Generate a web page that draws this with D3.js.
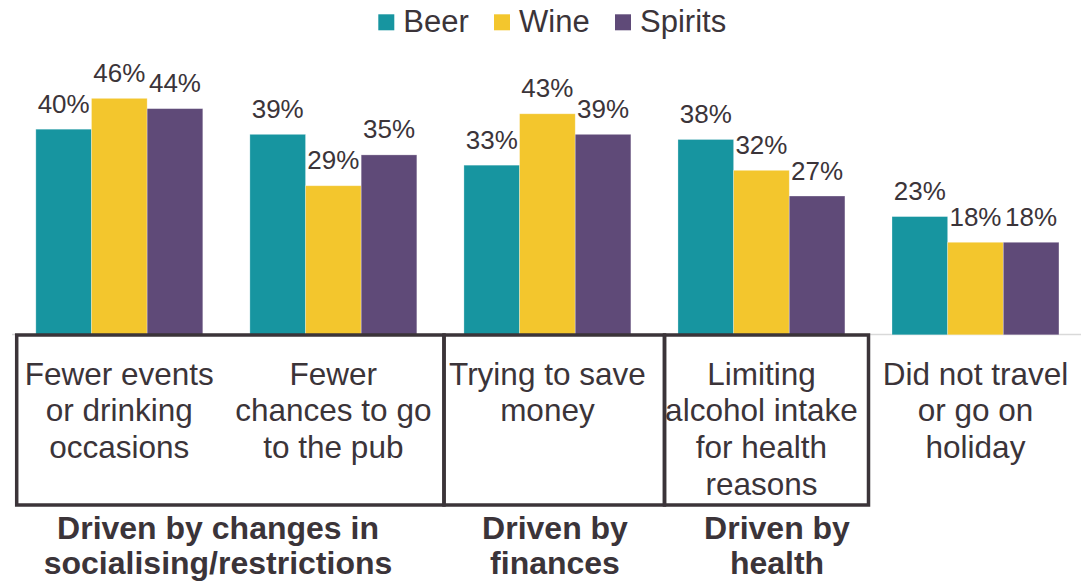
<!DOCTYPE html>
<html>
<head>
<meta charset="utf-8">
<script src="https://cdn.jsdelivr.net/npm/d3@7/dist/d3.min.js"></script>
<style>
  html, body { margin: 0; padding: 0; background: #fff; }
  svg { display: block; font-family: "Liberation Sans", Arial, sans-serif; }
</style>
</head>
<body>
<svg id="chart" width="1081" height="581"></svg>
<script>
// Reasons for drinking less, by drink type (% of respondents)
const categories = [
  ["Fewer events", "or drinking", "occasions"],
  ["Fewer", "chances to go", "to the pub"],
  ["Trying to save", "money"],
  ["Limiting", "alcohol intake", "for health", "reasons"],
  ["Did not travel", "or go on", "holiday"]
];
const seriesNames = ["Beer", "Wine", "Spirits"];
const beer    = [40, 39, 33, 38, 23];
const wine    = [46, 29, 43, 32, 18];
const spirits = [44, 35, 39, 27, 18];

// Driver groupings and their captions
const groupTitles = [
  ["Driven by changes in", "socialising/restrictions"],
  ["Driven by", "finances"],
  ["Driven by", "health"]
];

const colors = ["#1795a0", "#f3c62d", "#5f4a78"];
const textColor = "#3b3439";

const svg = d3.select("#chart");
const values = [beer, wine, spirits];
const catIdx = d3.range(categories.length);

const x = d3.scaleBand()
  .domain(catIdx)
  .range([12.3, 1082.5])
  .paddingInner(0.22)
  .paddingOuter(0.11);

const xs = d3.scaleBand()
  .domain(d3.range(seriesNames.length))
  .range([0, x.bandwidth()]);

const y = d3.scaleLinear().domain([0, 50]).range([334.8, 77.8]);

// category axis line
svg.append("line")
  .attr("x1", 12).attr("x2", 1081)
  .attr("y1", 334.5).attr("y2", 334.5)
  .attr("stroke", "#d9d9d9").attr("stroke-width", 1.5);

// bars
const groups = svg.append("g").selectAll("g")
  .data(catIdx)
  .join("g")
  .attr("transform", i => `translate(${x(i)},0)`);

const cells = groups.selectAll("g.cell")
  .data(i => values.map((s, k) => ({ k, v: s[i] })))
  .join("g").attr("class", "cell");

cells.append("rect")
  .attr("x", d => xs(d.k))
  .attr("width", xs.bandwidth())
  .attr("y", d => y(d.v))
  .attr("height", d => y(0) - y(d.v))
  .attr("fill", d => colors[d.k])
  .attr("stroke", "#fff").attr("stroke-opacity", 0.35).attr("stroke-width", 0.8);

cells.append("text")
  .attr("x", d => xs(d.k) + xs.bandwidth() / 2)
  .attr("y", d => y(d.v) - 16.5)
  .attr("text-anchor", "middle")
  .attr("font-size", 26)
  .attr("fill", textColor)
  .text(d => d.v + "%");

// bracket boxes around driver groups
const boxEdges = [[16.7, 444], [444, 664.5], [664.5, 868.5]];
svg.append("g").selectAll("rect")
  .data(boxEdges)
  .join("rect")
  .attr("x", d => d[0])
  .attr("width", d => d[1] - d[0])
  .attr("y", 335)
  .attr("height", 170)
  .attr("fill", "none")
  .attr("stroke", textColor)
  .attr("stroke-width", 3.5);

// category labels
const catLabels = svg.append("g").selectAll("text")
  .data(catIdx)
  .join("text")
  .attr("text-anchor", "middle")
  .attr("font-size", 31.5)
  .attr("fill", textColor);
catLabels.selectAll("tspan")
  .data(i => categories[i].map(line => ({ i, line })))
  .join("tspan")
  .attr("x", d => x(d.i) + x.bandwidth() / 2)
  .attr("y", (d, j) => 384.5 + j * 36.7)
  .text(d => d.line);

// driver captions
const titleCenters = [218, 555, 777];
const titles = svg.append("g").selectAll("text")
  .data(groupTitles)
  .join("text")
  .attr("text-anchor", "middle")
  .attr("font-size", 32)
  .attr("font-weight", "bold")
  .attr("fill", textColor);
titles.selectAll("tspan")
  .data((t, g) => t.map(line => ({ g, line })))
  .join("tspan")
  .attr("x", d => titleCenters[d.g])
  .attr("y", (d, j) => 538.5 + j * 35.5)
  .text(d => d.line);

// legend
const legendX = [378.3, 494, 615];
const legend = svg.append("g").selectAll("g")
  .data(seriesNames)
  .join("g")
  .attr("transform", (d, k) => `translate(${legendX[k]},14.3)`);
legend.append("rect")
  .attr("width", 16).attr("height", 16)
  .attr("fill", (d, k) => colors[k]);
legend.append("text")
  .attr("x", 25).attr("y", 17.4)
  .attr("font-size", 31)
  .attr("fill", textColor)
  .text(d => d);
</script>
</body>
</html>
